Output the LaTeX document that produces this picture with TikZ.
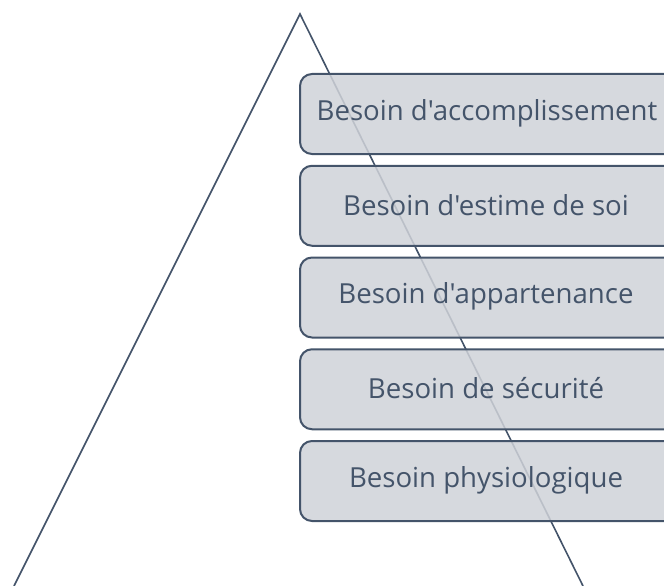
\documentclass[tikz,border=0pt]{standalone}
\usepackage{fontspec}
\setmainfont[Ligatures=TeXReset]{Open Sans}
\definecolor{edge}{HTML}{44546A}
\definecolor{boxfill}{HTML}{CFD2D8}
\begin{document}
\begin{tikzpicture}[x=1pt,y=-1pt,
  level/.style={draw=edge, line width=2pt, rounded corners=12pt, fill=boxfill, fill opacity=0.85,
    minimum width=380pt, minimum height=80pt, inner sep=0pt, anchor=north west},
  lab/.style={text=edge, font=\fontsize{27.6}{32}\selectfont, inner sep=0pt},
  tri/.style={draw=edge, line width=1.6pt}]
\useasboundingbox (0,0) rectangle (664,586);
\begin{scope}
\clip (0,0) rectangle (664,586);
\coordinate (apex) at (300,14);
\coordinate (bl) at (14,586);
\coordinate (br) at (583,586);
\draw[tri] (bl) -- (apex) -- (br);
\node[level] (l1) at (299,73) {};
\node[level] (l2) at (299,164.75) {};
\node[level] (l3) at (299,256.5) {};
\node[level] (l4) at (299,348.25) {};
\node[level] (l5) at (299,440) {};
\end{scope}
\node[lab] (t1) at (487,113) {Besoin d'accomplissement};
\node[lab] (t2) at (486,204.75) {Besoin d'estime de soi};
\node[lab] (t3) at (486,296.5) {Besoin d'appartenance};
\node[lab] (t4) at (486,388.25) {Besoin de sécurité};
\node[lab] (t5) at (486,480) {Besoin physiologique};
\end{tikzpicture}
\end{document}
